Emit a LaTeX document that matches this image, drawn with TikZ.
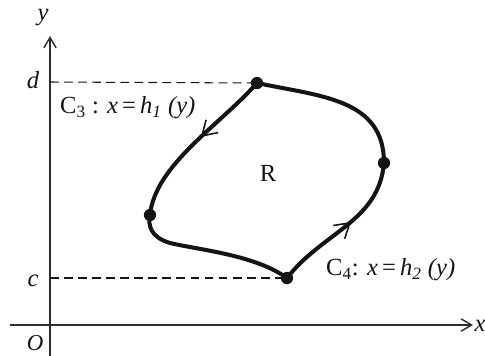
\documentclass[tikz,border=0pt]{standalone}
\usepackage{fontspec}
\setmainfont{Liberation Serif}
\usetikzlibrary{arrows.meta,decorations.markings}
\definecolor{ink}{RGB}{20,20,20}
\definecolor{axisgray}{RGB}{45,45,45}
\tikzset{
  axis/.style={-{Straight Barb[length=6pt,width=7pt]}, line width=0.8pt, draw=axisgray},
  guide/.style={dash pattern=on 5pt off 3pt, line width=0.6pt, draw=ink},
  boundary/.style={line width=2.3pt, draw=ink, line cap=round},
  midarrow/.style={postaction={decorate, decoration={markings,
    mark=at position #1 with {\arrow[line width=0.9pt]{Straight Barb[length=8pt,width=10pt]}}}}},
  corner/.style={circle, fill=ink, inner sep=0pt, minimum size=7pt},
  lab/.style={font=\fontsize{14}{16}\selectfont, text=ink, inner sep=1pt},
}
\begin{document}
\begin{tikzpicture}[x=0.02cm,y=-0.02cm]
  \useasboundingbox (0,0) rectangle (485,356);

  % Axes and their labels.
  \coordinate (origin) at (50,325);
  \coordinate (xend) at (473,325);
  \coordinate (xstart) at (10,325);
  \coordinate (yend) at (50,36);
  \coordinate (ystart) at (50,356);
  \draw[axis] (xstart) -- (xend);
  \draw[axis] (ystart) -- (yend);
  \node[lab] (xlab) at (480,326) {\textit{x}};
  \node[lab] (ylab) at (43,18) {\textit{y}};
  \node[lab, font=\fontsize{13}{15}\selectfont] (olab) at (35,343) {\textit{O}};

  % Corner points of the region.
  \node[corner] (top) at (257,83) {};
  \node[corner] (right) at (384,163) {};
  \node[corner] (bottom) at (287,278) {};
  \node[corner] (left) at (150,215) {};

  % Levels c and d.
  \coordinate (dmark) at (50,82);
  \coordinate (cmark) at (50,278);
  \draw[guide] (dmark) -- (top.center);
  \draw[guide] (cmark) -- (bottom.center);
  \node[lab] (dlab) at (33,80) {\textit{d}};
  \node[lab] (clab) at (33,281) {\textit{c}};

  % Boundary of R.
  \draw[boundary] (top.center) to[out=-12, in=90, looseness=1.1] (right.center);
  \draw[boundary, midarrow=0.55] (bottom.center) to[out=52, in=-95, looseness=1.0] (right.center);
  \draw[boundary] (bottom.center) .. controls (255,255) and (200,250) .. (170,243)
    .. controls (150,237) and (148,225) .. (left.center);
  \draw[boundary, midarrow=0.45] (top.center) .. controls (220,125) and (155,165) .. (left.center);

  \node[lab] (rlab) at (268,173) {R};
  \node[lab, anchor=west] (c3lab) at (58,108)
    {C\textsubscript{3} : \textit{x}\,=\,\textit{h}\textsubscript{\textit{1}} \textit{(y)}};
  \node[lab, anchor=west] (c4lab) at (324,270)
    {C\textsubscript{4}: \textit{x}\,=\,\textit{h}\textsubscript{\textit{2}} \textit{(y)}};
\end{tikzpicture}
\end{document}
